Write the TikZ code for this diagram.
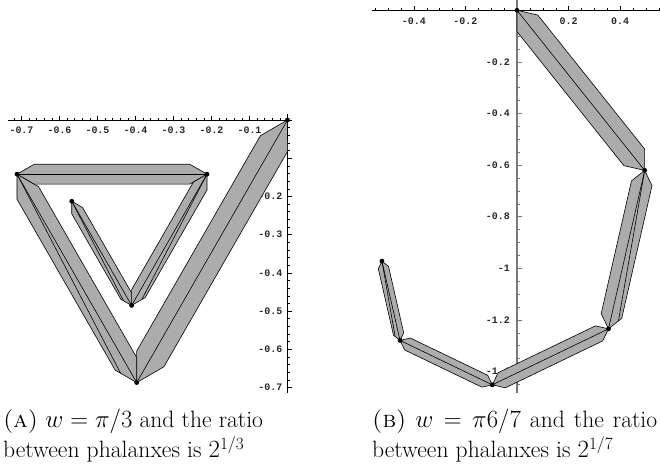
\documentclass[tikz,border=0pt]{standalone}
\usepackage{fontspec}
\newfontfamily\tickfont{Liberation Mono}
\usetikzlibrary{calc}
\definecolor{bandgray}{RGB}{172,172,172}
\definecolor{axisgray}{RGB}{120,120,120}
\tikzset{
  band/.style={fill=bandgray, draw=black, line width=0.6bp, line join=round},
  bone/.style={draw=black, line width=0.6bp},
  axisline/.style={draw=black, line width=0.5bp},
  grayaxis/.style={draw=axisgray, line width=1.1bp},
  tickline/.style={draw=black, line width=0.4bp},
  graytick/.style={draw=axisgray, line width=0.5bp},
  ticklab/.style={font=\tickfont\bfseries\fontsize{10}{10}\selectfont, inner sep=0pt, text=black!85},
  caption/.style={font=\fontsize{23.7}{30}\selectfont, inner sep=0pt, anchor=base west},
}
% phalanx: #1 start joint, #2 end joint, #3 bevel length, #4 bevel angle, #5 name prefix
\newcommand\phal[5]{%
  \coordinate (#5a1) at ($(#1)!#3!#4:(#2)$);
  \coordinate (#5a2) at ($(#1)!#3!-#4:(#2)$);
  \coordinate (#5b1) at ($(#2)!#3!#4:(#1)$);
  \coordinate (#5b2) at ($(#2)!#3!-#4:(#1)$);
  \draw[band] (#1) -- (#5a1) -- (#5b2) -- (#2) -- (#5b1) -- (#5a2) -- cycle;
  \draw[bone] (#1) -- (#2);
}
\begin{document}
\begin{tikzpicture}[x=1bp,y=1bp]
\useasboundingbox (0,0) rectangle (660,468);

% ---------------- (A) ----------------
\begin{scope}[shift={(287.5,348)}, x=380bp, y=382bp]
  % axes
  \draw[axisline] (-0.735,0) -- (0.012,0);
  \draw[axisline] (0,0.016) -- (0,-0.715);
  \foreach \i in {1,...,36} {\draw[tickline] (-\i*0.02,0) -- ++(0,2bp);}
  \foreach \i in {1,...,7} {\draw[tickline] (-\i/10,0) -- ++(0,4bp);}
  \foreach \i in {1,...,35} {\draw[tickline] (0,-\i*0.02) -- ++(2bp,0);}
  \foreach \i in {1,...,7} {\draw[tickline] (0,-\i/10) -- ++(4bp,0);}
  \foreach \i in {1,...,7} {\node[ticklab, yshift=-10.5bp] (ax\i) at (-\i/10,0) {-0.\i};}
  \foreach \i in {2,...,7} {\node[ticklab, anchor=east, xshift=-5bp] (ay\i) at (0,-\i/10) {-0.\i};}
  % joints
  \coordinate (a0) at (0,0);
  \coordinate (a1) at (-0.39685,-0.68736);
  \coordinate (a2) at (-0.71183,-0.14180);
  \coordinate (a3) at (-0.21183,-0.14180);
  \coordinate (a4) at (-0.41026,-0.48548);
  \coordinate (a5) at (-0.56775,-0.21270);
  % phalanxes
  \phal{a0}{a1}{31.4bp}{30}{ba0}
  \phal{a1}{a2}{24.9bp}{30}{ba1}
  \draw[bone] (a2) -- ($(a1)!0.75!(ba1a1)$);
  \phal{a2}{a3}{19.8bp}{30}{ba2}
  \phal{a3}{a4}{15.7bp}{30}{ba3}
  \draw[bone] (a3) -- ($(a4)!0.75!(ba3b2)$);
  \phal{a4}{a5}{12.5bp}{30}{ba4}
  \draw[bone] (a5) -- ($(a4)!0.75!(ba4a1)$);
  \foreach \p in {a0,a1,a2,a3,a4,a5} {\fill (\p) circle (2.4bp);}
\end{scope}

% ---------------- (B) ----------------
\begin{scope}[shift={(517,457.7)}, x=258bp, y=258bp]
  \draw[axisline] (-0.562,0) -- (0.554,0);
  \foreach \i in {-11,...,11} {\draw[tickline] (\i*0.05,0) -- ++(0,2bp);}
  \foreach \i in {-2,-1,1,2} {\draw[tickline] (\i*0.2,0) -- ++(0,4bp);}
  \foreach \v/\t [count=\n] in {-0.4/-0.4,-0.2/-0.2,0.2/0.2,0.4/0.4}
    {\node[ticklab, yshift=-10.5bp] (bx\n) at (\v,0) {\t};}
  \foreach \v/\t [count=\n] in {0.2/-0.2,0.4/-0.4,0.6/-0.6,0.8/-0.8,1/-1,1.2/-1.2,1.4/-1.4}
    {\node[ticklab, anchor=east, xshift=-7bp] (by\n) at (0,-\v) {\t};}
  \draw[grayaxis] (0,0.04) -- (0,-1.483);
  \foreach \i in {1,...,29} {\draw[graytick] (0,-\i*0.05) -- ++(2.5bp,0);}
  \foreach \i in {1,...,7} {\draw[graytick] (0,-\i*0.2) -- ++(4.5bp,0);}
  % joints
  \coordinate (b0) at (0,0);
  \coordinate (b1) at (0.49486,-0.62054);
  \coordinate (b2) at (0.35468,-1.23471);
  \coordinate (b3) at (-0.09581,-1.45165);
  \coordinate (b4) at (-0.45336,-1.27947);
  \coordinate (b5) at (-0.52345,-0.97239);
  \phal{b0}{b1}{21.3bp}{38.57}{bb0}
  \phal{b1}{b2}{16.9bp}{38.57}{bb1}
  \draw[bone] (b1) -- ($(b2)!0.75!(bb1b2)$);
  \phal{b2}{b3}{13.4bp}{38.57}{bb2}
  \phal{b3}{b4}{10.6bp}{38.57}{bb3}
  \phal{b4}{b5}{8.4bp}{38.57}{bb4}
  \draw[bone] (b5) -- ($(b4)!0.75!(bb4a1)$);
  \foreach \p in {b0,b1,b2,b3,b4,b5} {\fill (\p) circle (2.4bp);}
\end{scope}

% ---------------- captions ----------------
\node[caption] (capA1) at (3,40) {\textsc{(a)} $w=\pi/3$ and the ratio};
\node[caption] (capA2) at (3,10) {between phalanxes is $2^{1/3}$};
\node[caption] (capB1) at (372,40) {\makebox[285bp][s]{\textsc{(b)} $w=\pi6/7$ and the ratio}};
\node[caption] (capB2) at (372,10) {between phalanxes is $2^{1/7}$};
\end{tikzpicture}
\end{document}
